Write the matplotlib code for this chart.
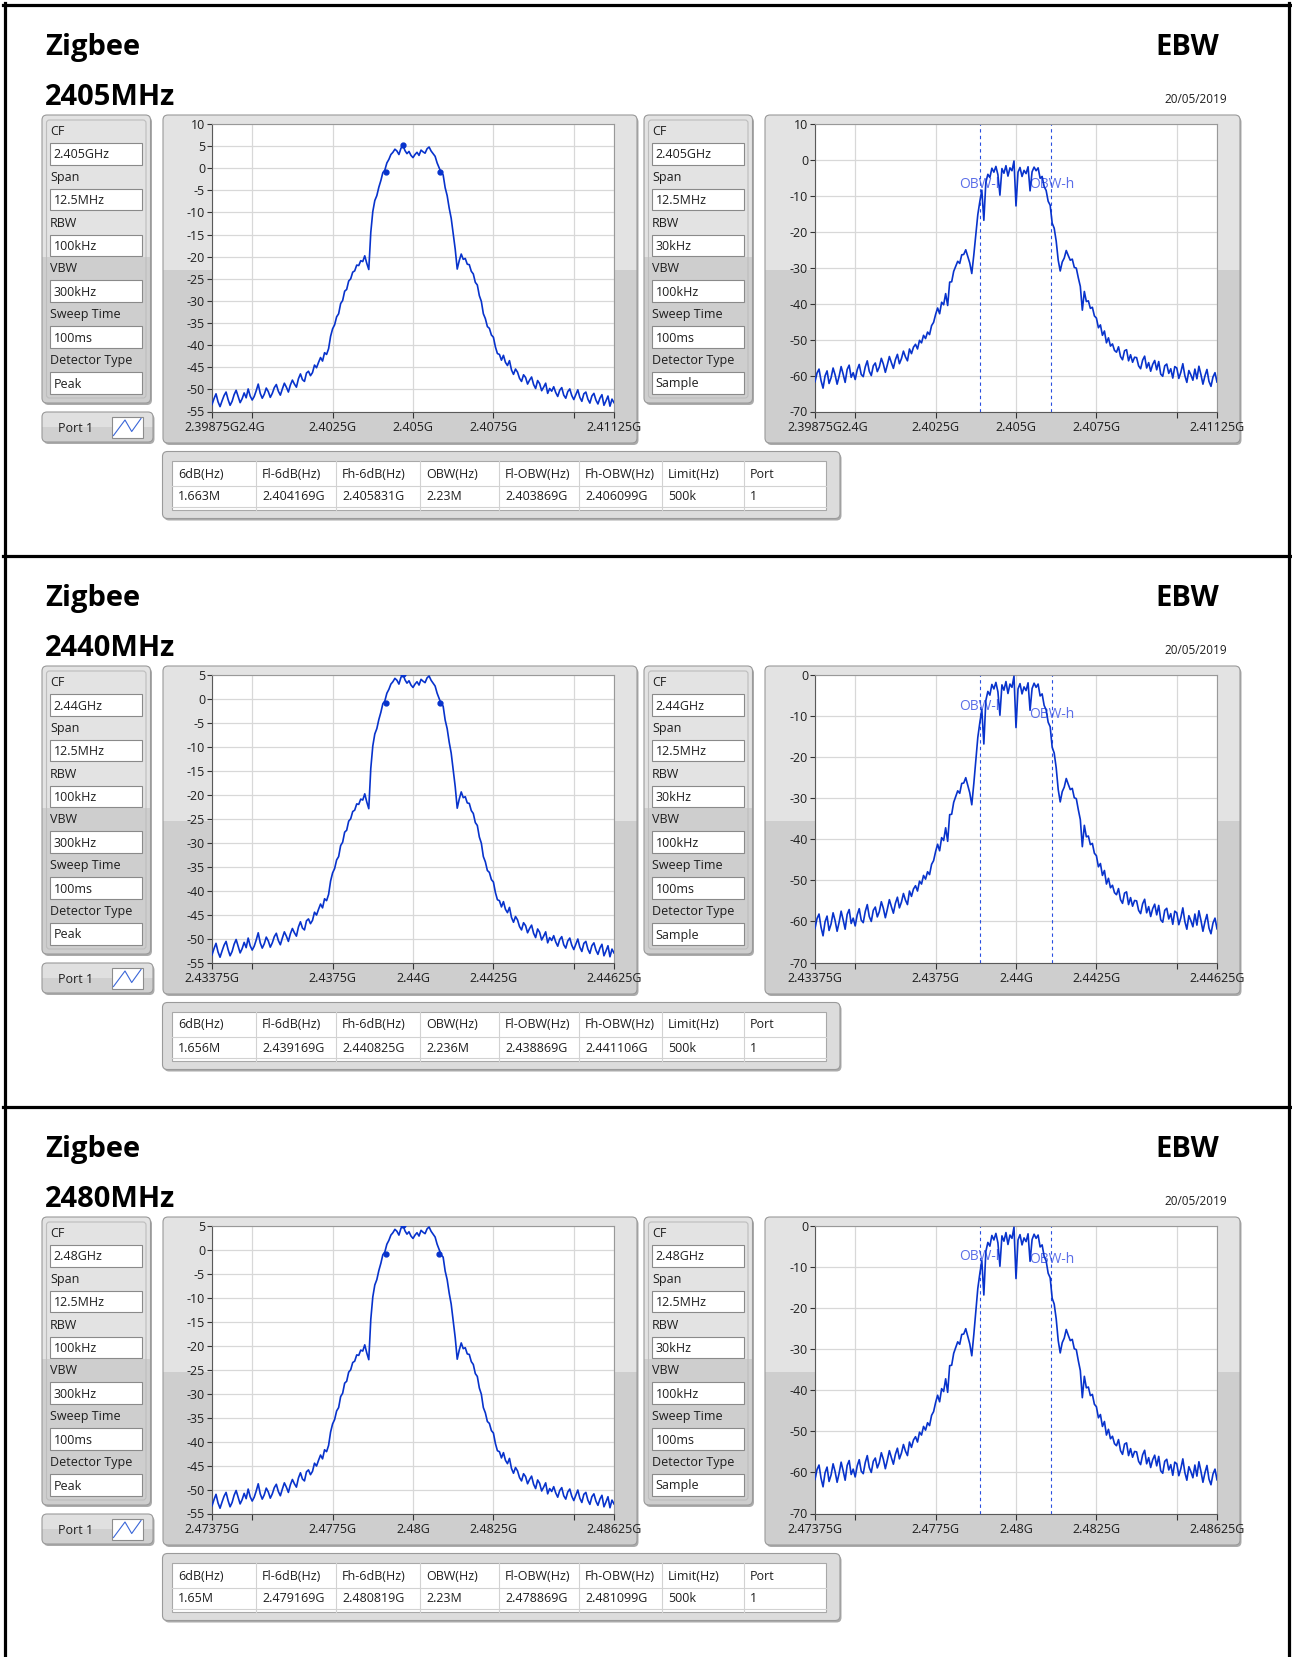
import matplotlib
matplotlib.use('Agg')
import matplotlib.pyplot as plt
from matplotlib.patches import FancyBboxPatch, Rectangle
import numpy as np

plt.rcParams['font.family'] = ['Open Sans', 'DejaVu Sans']
plt.rcParams['axes.unicode_minus'] = False

W, H = 1292, 1657
DY = 551  # khoang cach doc giua 3 khoi kenh (px)

# ---------------- du lieu ----------------
channels = ['2405MHz', '2440MHz', '2480MHz']
cf_ghz = [2.405, 2.44, 2.48]
cf_text = ['2.405GHz', '2.44GHz', '2.48GHz']
span_mhz = 12.5
setting_names = ['CF', 'Span', 'RBW', 'VBW', 'Sweep Time', 'Detector Type']
peak_settings = ['12.5MHz', '100kHz', '300kHz', '100ms', 'Peak']
sample_settings = ['12.5MHz', '30kHz', '100kHz', '100ms', 'Sample']

table_cols = ['6dB(Hz)', 'Fl-6dB(Hz)', 'Fh-6dB(Hz)', 'OBW(Hz)',
              'Fl-OBW(Hz)', 'Fh-OBW(Hz)', 'Limit(Hz)', 'Port']
table_rows = [
    ['1.663M', '2.404169G', '2.405831G', '2.23M', '2.403869G', '2.406099G', '500k', '1'],
    ['1.656M', '2.439169G', '2.440825G', '2.236M', '2.438869G', '2.441106G', '500k', '1'],
    ['1.65M', '2.479169G', '2.480819G', '2.23M', '2.478869G', '2.481099G', '500k', '1'],
]
fl_6db = [2.404169, 2.439169, 2.479169]
fh_6db = [2.405831, 2.440825, 2.480819]
fl_obw = [2.403869, 2.438869, 2.478869]
fh_obw = [2.406099, 2.441106, 2.481099]

peak_ylim = [(-55, 10), (-55, 5), (-55, 5)]
sample_ylim = [(-70, 10), (-70, 0), (-70, 0)]
obw_label_db = [(-6.9, -6.9), (-7.7, -9.5), (-7.5, -8.2)]

xticks_ghz = [
    [2.39875, 2.4, 2.4025, 2.405, 2.4075, 2.41, 2.41125],
    [2.43375, 2.435, 2.4375, 2.44, 2.4425, 2.445, 2.44625],
    [2.47375, 2.475, 2.4775, 2.48, 2.4825, 2.485, 2.48625],
]
xtick_labels = [
    ['2.39875G', '2.4G', '2.4025G', '2.405G', '2.4075G', '', '2.41125G'],
    ['2.43375G', '', '2.4375G', '2.44G', '2.4425G', '', '2.44625G'],
    ['2.47375G', '', '2.4775G', '2.48G', '2.4825G', '', '2.48625G'],
]

# vet Peak (dBm), 201 diem doc tu anh, tu CF-6.25MHz den CF+6.25MHz
peak_trace = [
    -53.4, -52.1, -51.0, -52.8, -53.9, -52.6, -51.4, -50.6, -52.3, -53.6,
    -52.7, -51.2, -50.2, -51.6, -53.0, -52.1, -50.8, -51.9, -49.9, -51.5,
    -52.4, -51.6, -50.3, -48.8, -50.9, -52.0, -51.1, -49.7, -50.5, -51.8,
    -50.9, -49.6, -48.9, -50.4, -51.3, -49.9, -48.6, -49.5, -50.6, -49.0,
    -47.9, -48.8, -49.5, -47.6, -46.5, -47.8, -48.2, -46.3, -45.9, -46.9,
    -46.2, -44.5, -45.1, -43.9, -42.8, -43.6, -41.7, -42.1, -40.8, -38.0,
    -36.3, -35.4, -33.6, -32.9, -30.6, -29.9, -27.8, -27.4, -25.5, -25.0,
    -23.5, -23.2, -21.9, -22.0, -20.9, -21.1, -19.8, -21.5, -22.9, -14.5,
    -9.8, -7.3, -6.2, -4.3, -2.8, -1.0, -0.4, 1.2, 2.0, 3.1,
    3.6, 4.3, 3.9, 3.1, 4.5, 5.2, 4.0, 3.3, 3.8, 2.9,
    2.4, 3.1, 3.6, 2.9, 4.1, 3.7, 3.4, 4.4, 4.8, 3.9,
    3.3, 2.7, 1.2, 0.1, -1.0, -1.5, -4.4, -6.2, -9.0, -11.3,
    -14.8, -18.3, -22.8, -20.9, -19.4, -20.6, -20.4, -21.7, -21.8, -23.3,
    -23.9, -25.8, -26.4, -28.8, -30.1, -32.9, -34.0, -35.8, -36.2, -37.7,
    -38.2, -40.4, -41.9, -42.1, -43.4, -42.3, -43.9, -44.6, -43.5, -45.6,
    -46.6, -45.4, -46.1, -47.5, -48.2, -46.7, -47.3, -48.8, -47.9, -47.2,
    -48.9, -49.8, -48.0, -48.7, -50.3, -49.5, -48.6, -50.9, -49.8, -50.4,
    -49.4, -50.7, -51.6, -50.2, -49.6, -51.3, -52.0, -50.5, -49.9, -51.4,
    -52.3, -51.2, -50.1, -51.8, -52.7, -51.0, -50.6, -52.2, -53.1, -51.5,
    -50.9, -52.4, -53.3, -52.0, -51.2, -53.6, -52.6, -51.5, -53.8, -52.2, -53.0,
]
# vet Sample (EBW)
sample_trace = [
    -61.7, -59.3, -58.2, -61.4, -63.5, -60.1, -58.7, -62.2, -60.6, -57.9,
    -59.8, -62.4, -60.2, -57.5, -59.6, -61.9, -58.3, -57.1, -60.5, -59.2,
    -61.1, -58.4, -56.9, -59.7, -60.3, -57.6, -55.9, -58.8, -60.0, -57.3,
    -56.5, -58.9, -57.6, -55.2, -56.8, -59.1, -57.0, -54.7, -56.4, -58.0,
    -55.6, -54.1, -56.7, -55.3, -53.2, -54.8, -55.9, -52.6, -53.9, -52.1,
    -51.3, -52.6, -50.2, -50.9, -48.8, -49.7, -47.9, -48.6, -46.1, -45.2,
    -43.0, -41.2, -42.8, -39.6, -40.3, -37.2, -40.5, -34.0, -33.9, -31.0,
    -29.6, -28.2, -28.8, -26.4, -26.3, -25.0, -26.9, -28.7, -31.6, -26.5,
    -21.0, -15.2, -11.6, -8.4, -16.8, -6.2, -4.0, -4.9, -2.3, -3.4,
    -1.8, -4.1, -9.8, -2.4, -3.7, -1.6, -4.5, -2.2, -3.0, -0.3,
    -12.8, -3.4, -2.1, -4.6, -2.9, -3.8, -1.9, -8.6, -3.3, -2.0,
    -3.0, -2.2, -5.1, -4.6, -7.4, -8.5, -11.5, -12.6, -17.6, -19.0,
    -22.6, -27.9, -30.9, -28.4, -27.3, -25.2, -26.6, -27.9, -27.6, -29.9,
    -30.1, -32.8, -35.2, -41.8, -36.6, -39.4, -39.2, -41.3, -41.0, -43.4,
    -44.0, -46.7, -45.9, -48.8, -47.6, -50.9, -49.5, -51.8, -51.2, -53.0,
    -53.5, -52.0, -54.7, -55.6, -53.1, -52.8, -55.9, -54.2, -56.3, -54.9,
    -55.0, -57.3, -58.1, -55.7, -54.6, -57.9, -56.4, -58.8, -56.9, -55.8,
    -58.4, -56.1, -59.6, -60.2, -57.3, -56.8, -59.4, -58.1, -60.7, -57.5,
    -57.9, -60.8, -59.1, -56.7, -60.0, -61.9, -58.6, -59.8, -61.3, -58.2,
    -60.9, -57.4, -59.7, -62.4, -60.1, -58.3, -61.6, -63.0, -60.4, -59.2, -61.8,
]

TRACE = '#0833cc'
TXT = '#1e1e1e'

fig = plt.figure(figsize=(W / 100, H / 100), dpi=100)
bg = fig.add_axes([0, 0, 1, 1])
bg.set_xlim(0, W)
bg.set_ylim(H, 0)
bg.axis('off')


def panel(x0, y0, x1, y1, split, light='#e3e3e3', dark='#cecece'):
    w, h = x1 - x0, y1 - y0
    style = 'round,pad=0,rounding_size=5'
    bg.add_patch(FancyBboxPatch((x0 + 1.5, y0 + 2), w, h, boxstyle=style,
                                fc='#ababab', ec='none', zorder=1))
    body = FancyBboxPatch((x0, y0), w, h, boxstyle=style, fc=dark, ec='none', zorder=2)
    bg.add_patch(body)
    top = Rectangle((x0, y0), w, split - y0, fc=light, ec='none', zorder=2.1)
    bg.add_patch(top)
    top.set_clip_path(body)
    bg.add_patch(FancyBboxPatch((x0, y0), w, h, boxstyle=style, fc='none',
                                ec='#9a9a9a', lw=0.8, zorder=2.2))


def settings_panel(x0, y0, values):
    panel(x0, y0, x0 + 108.5, y0 + 288, y0 + 142)
    bg.add_patch(FancyBboxPatch((x0 + 4.5, y0 + 5), 99.5, 278,
                                boxstyle='round,pad=0,rounding_size=3',
                                fc='none', ec='#bdbdbd', lw=0.8, zorder=2.5))
    for k, (name, val) in enumerate(zip(setting_names, values)):
        by = y0 + 28 + 45.8 * k
        bg.text(x0 + 8, by - 8, name, fontsize=9, color=TXT, va='baseline', zorder=4)
        bg.add_patch(Rectangle((x0 + 8, by), 91.5, 21.5, fc='white',
                               ec='#8a8a8a', lw=0.8, zorder=3))
        bg.text(x0 + 11.5, by + 15.5, val, fontsize=9, color=TXT, va='baseline', zorder=4)


def make_axes(x0, y0, x1, y1):
    return fig.add_axes([x0 / W, 1 - y1 / H, (x1 - x0) / W, (y1 - y0) / H])


def style_plot(ax, s, f, ylim, ystep):
    ax.set_facecolor('white')
    ax.set_xlim(f[0], f[-1])
    ax.set_ylim(*ylim)
    ax.set_yticks(np.arange(ylim[0], ylim[1] + 1, ystep))
    ax.set_xticks(xticks_ghz[s])
    ax.set_xticklabels(xtick_labels[s])
    ax.grid(True, color='#d8d8d8', lw=0.9, zorder=0)
    ax.set_axisbelow(True)
    ax.tick_params(axis='both', direction='out', labelsize=9, colors='#333333',
                   labelcolor=TXT, width=0.8)
    ax.tick_params(axis='x', length=4.5, pad=2.5)
    ax.tick_params(axis='y', length=3.5, pad=1.5)
    for side in ['left', 'bottom']:
        ax.spines[side].set_color('#5a5a5a')
        ax.spines[side].set_linewidth(0.8)
    for side in ['top', 'right']:
        ax.spines[side].set_color('#999999')
        ax.spines[side].set_linewidth(0.8)


offsets = np.linspace(-span_mhz / 2, span_mhz / 2, len(peak_trace))
peak = np.array(peak_trace)
sample = np.array(sample_trace)

for s in range(3):
    dy = s * DY
    f = cf_ghz[s] + offsets / 1000.0

    # tieu de
    bg.text(45, 55 + dy, 'Zigbee', fontsize=21, fontweight='bold', color='black', va='baseline')
    bg.text(45, 105 + dy, channels[s], fontsize=21, fontweight='bold', color='black', va='baseline')
    bg.text(1219, 55 + dy, 'EBW', fontsize=21, fontweight='bold', color='black',
            va='baseline', ha='right')
    bg.text(1227, 103 + dy, '20/05/2019', fontsize=8.5, color=TXT, va='baseline', ha='right')

    # bang thong so
    settings_panel(42, 115 + dy, [cf_text[s]] + peak_settings)
    settings_panel(644, 115 + dy, [cf_text[s]] + sample_settings)

    # nut Port 1
    panel(42, 412 + dy, 153, 442 + dy, 427 + dy, light='#e0e0e0', dark='#d0d0d0')
    bg.text(58, 432 + dy, 'Port 1', fontsize=9, color=TXT, va='baseline', zorder=4)
    bg.add_patch(Rectangle((111.5, 416.5 + dy), 31, 21.5, fc='white', ec='#8c8c8c',
                           lw=0.8, zorder=3))
    bg.plot([113.5, 125, 131.7, 141], [435.5 + dy, 420 + dy, 431.5 + dy, 418.5 + dy],
            color='#3a66d8', lw=0.8, zorder=4)

    # khung do thi
    panel(163, 115 + dy, 637, 443 + dy, 270 + dy)
    panel(765, 115 + dy, 1240, 443 + dy, 270 + dy)

    # do thi Peak
    ax1 = make_axes(212, 124 + dy, 614, 411.5 + dy)
    ax1.plot(f, peak, color=TRACE, lw=1.2, zorder=3)
    i_pk = int(np.argmax(peak))
    ax1.plot([f[i_pk], fl_6db[s], fh_6db[s]],
             [peak[i_pk], peak[i_pk] - 6, peak[i_pk] - 6],
             'o', ms=3.5, color=TRACE, zorder=4)
    style_plot(ax1, s, f, peak_ylim[s], 5)

    # do thi Sample / EBW
    ax2 = make_axes(815, 124 + dy, 1217, 411.5 + dy)
    ax2.plot(f, sample, color=TRACE, lw=1.2, zorder=3)
    for fo, lab, ydb in [(fl_obw[s], 'OBW-l', obw_label_db[s][0]),
                         (fh_obw[s], 'OBW-h', obw_label_db[s][1])]:
        ax2.axvline(fo, color='#2a4fe0', ls=(0, (3, 3)), lw=0.8, zorder=2.5)
        ax2.text(fo, ydb, lab, ha='center', va='center', fontsize=10,
                 color='#5b6ee8', zorder=2)
    style_plot(ax2, s, f, sample_ylim[s], 10)

    # bang ket qua
    panel(162.5, 451.5 + dy, 840, 518.5 + dy, 518.5 + dy, light='#dcdcdc')
    bg.add_patch(Rectangle((172, 461 + dy), 654, 49, fc='white', ec='#a8a8a8',
                           lw=0.8, zorder=3))
    col_x = [172, 256, 336, 420, 499, 579, 662, 744, 826]
    for cx in col_x[1:-1]:
        bg.plot([cx, cx], [461 + dy, 510 + dy], color='#d2d2d2', lw=0.8, zorder=3.5)
    for ry in [485.5, 507]:
        bg.plot([172, 826], [ry + dy, ry + dy], color='#d2d2d2', lw=0.8, zorder=3.5)
    for k in range(len(table_cols)):
        bg.text(col_x[k] + 6, 477.5 + dy, table_cols[k], fontsize=9, color=TXT,
                va='baseline', zorder=4)
        bg.text(col_x[k] + 6, 500.5 + dy, table_rows[s][k], fontsize=9, color=TXT,
                va='baseline', zorder=4)

# vien den ngoai
lw_border = 2.3
bg.plot([4.5, 4.5], [3, H], color='black', lw=lw_border, zorder=5)
bg.plot([1288.5, 1288.5], [3, H], color='black', lw=lw_border, zorder=5)
bg.plot([3, 1290], [4.5, 4.5], color='black', lw=lw_border, zorder=5)
for yline in [556, 556 + DY]:
    bg.plot([3, 1290], [yline, yline], color='black', lw=lw_border, zorder=5)

fig.savefig('out.png', dpi=100)
